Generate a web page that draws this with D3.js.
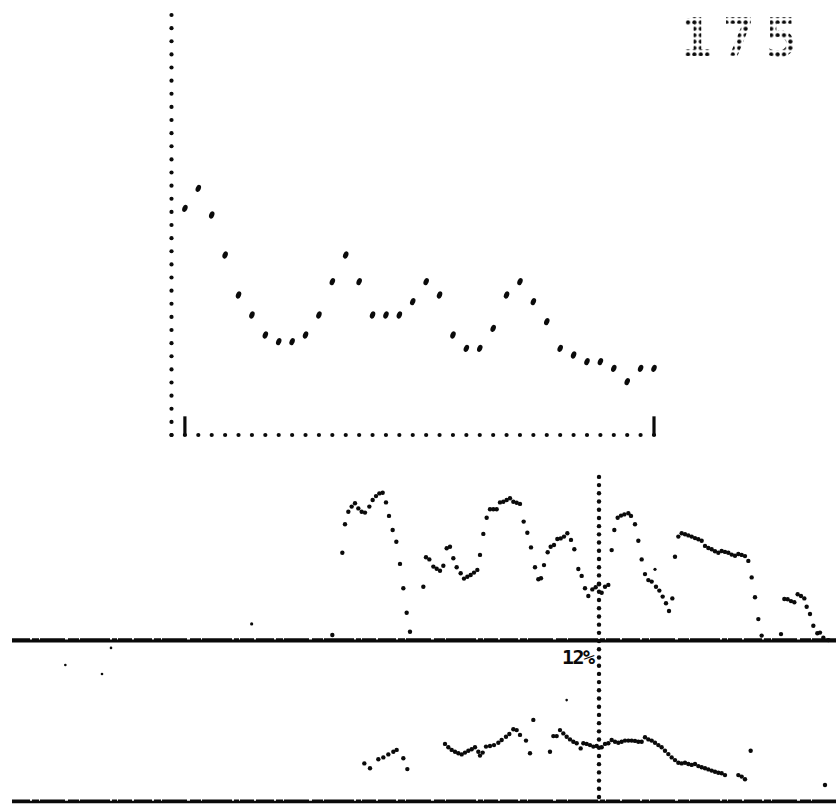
<!DOCTYPE html>
<html>
<head>
<meta charset="utf-8">
<script src="https://cdn.jsdelivr.net/npm/d3@7"></script>
<style>
  html, body { margin: 0; padding: 0; background: #fff; }
  svg { display: block; }
</style>
</head>
<body>
<svg id="chart" width="836" height="804"></svg>
<script>
// top panel: one value per step
const topValues = [34, 37, 33, 27, 21, 18, 15, 14, 14, 15, 18, 23, 27, 23, 18, 18, 18, 20,
  23, 21, 15, 13, 13, 16, 21, 23, 20, 17, 13, 12, 11, 11, 10, 8, 10, 10];
const topLabel = "175";

// lower trace, above the baseline: sample / level
const upperX = [99.7, 102.7, 103.5, 104.5, 105.5, 106.5, 107.5, 108.5, 109.5, 110.8, 111.8, 112.8, 113.8, 114.8,
  115.8, 116.7, 117.8, 118.9, 120, 121, 122, 123, 127, 127.8, 128.8, 130, 131, 132, 133, 134, 135, 136, 137,
  138.2, 139.2, 140.2, 141.2, 142.2, 143.2, 144, 145, 146, 147, 148, 149, 150, 151, 152, 153, 154, 155, 156,
  157.1, 158.2, 159.3, 160.5, 161.5, 162.3, 163.2, 164.3, 165.2, 166.2, 167.2, 168.2, 169.2, 170.2, 171.3,
  172.3, 173.5, 174.5, 175.5, 176.5, 177.7, 178.7, 179.7, 180.5, 181.5, 182.5, 183.5, 184.3, 185.3, 186.3,
  187.3, 188.5, 189.3, 190.5, 191.5, 192.5, 193.5, 194.5, 195.5, 196.8, 197.8, 198.8, 199.8, 200.7, 201.7,
  202.5, 203.5, 204.5, 205.5, 206.5, 207.5, 208.5, 209.5, 210.5, 211.5, 212.5, 213.5, 214.5, 215.5, 216.5,
  217.5, 218.5, 219.5, 220.5, 221.5, 222.5, 223.5, 224.5, 225.5, 226.5, 227.5, 228.5, 234.3, 235.3, 236.3,
  237.3, 238.3, 239.3, 240.3, 241.3, 242, 243, 244, 245.2, 246, 247, 248.5];
const upperY = [2, 29.4, 38.9, 43.1, 44.8, 45.9, 44.2, 43.1, 42.8, 44.8, 47, 48.3, 49.2, 49.4,
  46.2, 41.7, 37, 33.1, 25.7, 17.6, 9.4, 3.1, 18.1, 27.9, 27.2, 24.8, 24.1, 23.4, 25.1, 30.9, 31.4, 27.6, 24.6,
  22.6, 20.8, 21.4, 22, 22.8, 23.7, 28.7, 35.7, 41.1, 43.9, 43.9, 43.9, 46.2, 46.4, 47, 47.6, 46.4, 46.1, 45.7,
  39.8, 36.1, 31.2, 24.6, 20.6, 20.9, 25.3, 29.6, 31.4, 32, 34, 34.2, 34.8, 35.9, 33.7,
  30.6, 24, 21.7, 17.6, 15, 17.2, 17.9, 18.9, 16.1, 18.1, 18.7, 30.3, 37, 41.1, 41.8,
  42.2, 42.6, 41.7, 38.9, 33.4, 27.2, 22.3, 20.3, 19.8, 18.1, 16.8, 14.8, 12.6, 10, 14.2,
  28.1, 34.8, 35.9, 35.6, 35.2, 34.8, 34.3, 33.9, 33.4, 31.7, 31, 30.6, 29.9, 29.4, 30,
  29.7, 29.4, 28.8, 28.4, 29, 28.7, 28.3, 26.7, 21.2, 14.6, 7.3, 1.8, 2.3, 14, 13.9,
  13.3, 12.9, 15.6, 15, 14.2, 11.4, 9, 5.1, 2.6, 2.8, 1.1, 0.3];

// lower trace, below the baseline
const lowerX = [109.3, 111, 113.5, 115, 116.5, 118, 119, 121, 122.2,
  133.5, 134.5, 135.5, 136.5, 137.5, 138.5, 139.5, 140.5, 141.5, 142.5, 143.5, 144, 144.8, 145.8, 147, 148.2,
  149.5, 150.5, 151.8, 152.8, 154, 155, 156, 157.8, 159, 160, 165, 166, 167, 168, 169, 170, 171, 172, 173,
  174.2, 175, 176, 177, 178, 179, 180.5, 181.5, 182.5, 183.5, 184.5, 185.5, 186.5, 187.5, 188.5, 189.5,
  190.5, 191.5, 192.5, 193.5, 194.5, 195.5, 196.5, 197.5, 198.5, 199.5, 200.5, 201.5, 202.5, 203.5, 204.5,
  205.5, 206.5, 207.5, 208.5, 209.5, 210.5, 211.5, 212.5, 213.5, 214.5, 215.5, 216.5, 217.5, 221.5, 222.5,
  223.5, 225.2, 247.5];
const lowerY = [12.2, 10.6, 13.6, 14.2, 15.2, 16.1, 16.7, 13.9, 10.3,
  18.7, 17.6, 16.7, 16.1, 15.6, 15.2, 15.8, 16.4, 16.9, 17.6, 16.1, 14.8, 15.8, 17.8, 18, 18.3,
  19.1, 20, 21.1, 22, 23.6, 23.3, 21.7, 19.8, 15.6, 26.7, 16.1, 21.3, 21.3, 23.3, 22.2, 21.1, 20.2, 19.4, 18.9,
  17.2, 18.9, 18.7, 18.3, 17.8, 18, 17.6, 18.7, 18.9, 20, 19.4, 19.1, 19.4, 19.8, 19.8, 19.8,
  19.7, 19.4, 19.4, 20.9, 20.2, 19.8, 19.1, 18.3, 17.6, 16.4, 15.3, 14.2, 13.3, 12.4, 12.2,
  12.4, 12, 11.7, 12, 11.3, 10.9, 10.6, 10.2, 9.8, 9.4, 9.1, 8.9, 8.3, 8.3, 7.8,
  6.9, 16.4, 5];

// loose specks on the sheet
const specksUpperX = [75.5, 196.5];
const specksUpperY = [5.7, 23.9];
const specksLowerX = [19.6, 33.3, 30.6, 170];
const specksLowerY = [45, 50.7, 42, 33.3];

const markerSample = 179.7;
const markerLabel = "12%";

const svg = d3.select("#chart");
const ink = "#0a0a0a";

// ---------- top panel ----------
const xTop = d3.scaleLinear().domain([-1, topValues.length - 1]).range([171.5, 654]);
const yTop = d3.scaleLinear().domain([0, 63]).range([435, 15]);

const topG = svg.append("g");

// dotted axes
topG.append("g").selectAll("circle")
  .data(d3.range(33).map((i) => (i * 63) / 32))
  .join("circle")
  .attr("cx", xTop(-1))
  .attr("cy", (d) => yTop(d))
  .attr("r", 2.1)
  .attr("fill", ink);

topG.append("g").selectAll("circle")
  .data(d3.range(-1, topValues.length))
  .join("circle")
  .attr("cx", (d) => xTop(d))
  .attr("cy", yTop(0))
  .attr("r", 2.1)
  .attr("fill", ink);

// end ticks
topG.append("g").selectAll("line")
  .data([0, topValues.length - 1])
  .join("line")
  .attr("x1", (d) => xTop(d))
  .attr("x2", (d) => xTop(d))
  .attr("y1", yTop(0) + 1)
  .attr("y2", yTop(2.8))
  .attr("stroke", ink)
  .attr("stroke-width", 3.2);

// data points, slanted printer dots
topG.append("g").selectAll("ellipse")
  .data(topValues)
  .join("ellipse")
  .attr("rx", 2.5)
  .attr("ry", 3.7)
  .attr("fill", ink)
  .attr("transform", (d, i) => `translate(${xTop(i)},${yTop(d)}) rotate(22)`);

// dotted number in the corner
const defs = svg.append("defs");
const pat = defs.append("pattern")
  .attr("id", "dots")
  .attr("patternUnits", "userSpaceOnUse")
  .attr("width", 6.4)
  .attr("height", 6.4);
pat.append("circle").attr("cx", 3.2).attr("cy", 3.2).attr("r", 2.1).attr("fill", ink);

svg.append("text")
  .attr("x", 680)
  .attr("y", 56)
  .attr("font-family", "DejaVu Sans Mono")
  .attr("font-weight", "bold")
  .attr("font-size", 54)
  .attr("letter-spacing", 10)
  .attr("fill", "url(#dots)")
  .text(topLabel);

// ---------- lower panel ----------
const x = d3.scaleLinear().domain([0, 250]).range([0, 833.33]);
const yU = d3.scaleLinear().domain([0, 55]).range([641, 476]);
const yL = d3.scaleLinear().domain([0, 55]).range([800, 635]);

// rough printed rules
function roughRule(yPos, w) {
  const g = svg.append("g");
  g.append("line")
    .attr("x1", 12).attr("x2", 836)
    .attr("y1", yPos).attr("y2", yPos)
    .attr("stroke", ink).attr("stroke-width", w - 1);
  g.append("line")
    .attr("x1", 12).attr("x2", 836)
    .attr("y1", yPos - 1).attr("y2", yPos - 1)
    .attr("stroke", ink).attr("stroke-width", w - 0.5)
    .attr("stroke-dasharray", "18 2 7 1 25 3 11 1 30 2 5 1 14 2");
}
roughRule(yU(0), 4);
roughRule(yL(0) + 2, 3.6);

// marker line
const markerDots = d3.range(40).map((i) => i / 39);
svg.append("g").selectAll("circle")
  .data(markerDots)
  .join("circle")
  .attr("cx", x(markerSample))
  .attr("cy", (t) => yU(54.7) + t * (yL(1) - yU(54.7)))
  .attr("r", 2.2)
  .attr("fill", ink);

svg.append("text")
  .attr("x", x(markerSample) - 37)
  .attr("y", 664)
  .attr("font-family", "DejaVu Sans Mono")
  .attr("font-weight", "bold")
  .attr("font-size", 20)
  .attr("letter-spacing", -1.5)
  .attr("fill", ink)
  .text(markerLabel);

// traces
svg.append("g").selectAll("circle")
  .data(d3.zip(upperX, upperY))
  .join("circle")
  .attr("cx", (d) => x(d[0]))
  .attr("cy", (d) => yU(d[1]))
  .attr("r", 2.2)
  .attr("fill", ink);

svg.append("g").selectAll("circle")
  .data(d3.zip(lowerX, lowerY))
  .join("circle")
  .attr("cx", (d) => x(d[0]))
  .attr("cy", (d) => yL(d[1]))
  .attr("r", 2.2)
  .attr("fill", ink);

svg.append("g").selectAll("circle")
  .data(d3.zip(specksUpperX, specksUpperY))
  .join("circle")
  .attr("cx", (d) => x(d[0]))
  .attr("cy", (d) => yU(d[1]))
  .attr("r", 1.6)
  .attr("fill", ink);

svg.append("g").selectAll("circle")
  .data(d3.zip(specksLowerX, specksLowerY))
  .join("circle")
  .attr("cx", (d) => x(d[0]))
  .attr("cy", (d) => yL(d[1]))
  .attr("r", 1.3)
  .attr("fill", ink);
</script>
</body>
</html>
